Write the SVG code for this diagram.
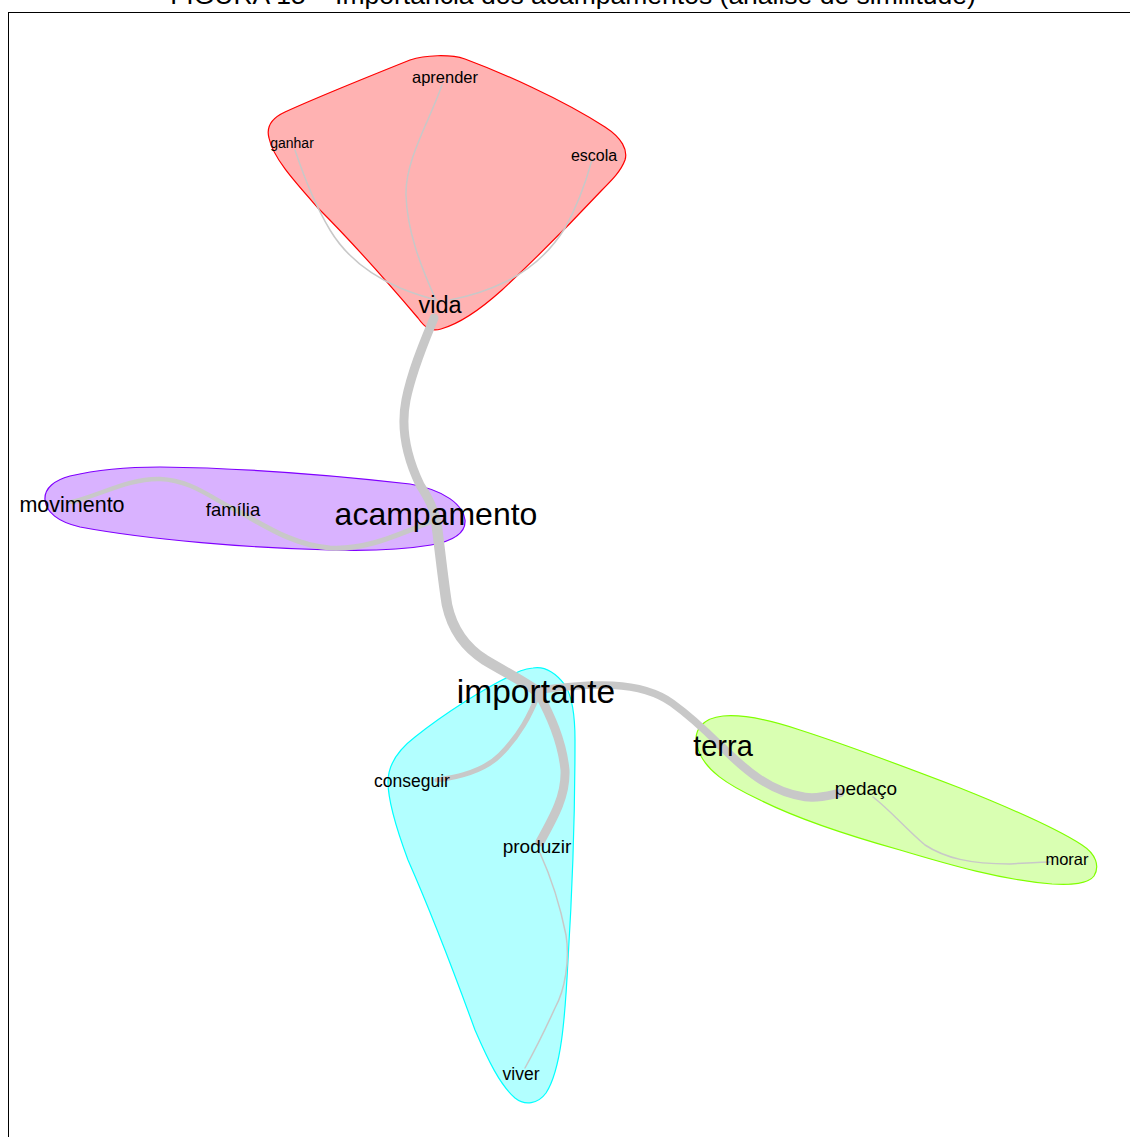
<svg xmlns="http://www.w3.org/2000/svg" width="1130" height="1137" viewBox="0 0 1130 1137">
<style>
text{font-family:"Liberation Sans",Arial,sans-serif;fill:#000;text-anchor:middle}
.e{fill:none;stroke:#C8C8C8;stroke-linecap:round}
.thin{stroke-width:1.5}
</style>
<rect width="1130" height="1137" fill="#fff"/>
<text x="573" y="4" font-size="26.5">FIGURA 15 – Importância dos acampamentos (análise de similitude)</text>
<rect x="8.5" y="12.5" width="1130" height="1130" fill="none" stroke="#000" stroke-width="1"/>
<g id="clusters">
<path id="cluster-red" fill="#FFB2B2" stroke="#FF0000" stroke-width="1.2" d="M269,138 C266,127 272,118 285,112 C320,96 370,76 410,60 C425,55 450,54 465,59 C500,72 560,98 605,127 C622,138 628,150 625,160 C621,171 612,180 602,190 C572,222 532,262 502,290 C482,308 462,323 441,329 C431,332 425,328 418,318 C390,285 350,240 318,208 C295,182 273,158 269,138 Z"/>
<path id="cluster-purple" fill="#D9B2FF" stroke="#8000FF" stroke-width="1.2" d="M45,500 C44,488 55,480 70,476 C100,469 130,467 160,467 C250,468 340,476 410,484 C445,490 463,505 465,520 C466,533 453,541 431,545 C401,550 360,551 330,550 C250,548 150,540 80,527 C58,522 46,512 45,500 Z"/>
<path id="cluster-cyan" fill="#B2FFFF" stroke="#00FFFF" stroke-width="1.2" d="M533,668 C545,666 555,672 565,685 C572,696 575,715 575,740 C575,800 573,880 568,960 C565,1020 561,1070 546,1093 C538,1104 525,1106 515,1098 C500,1085 488,1060 475,1030 C455,975 430,910 408,860 C395,825 388,800 388,782 C388,765 398,750 415,737 C445,713 485,688 510,676 C518,671 525,669 533,668 Z"/>
<path id="cluster-green" fill="#D9FFB2" stroke="#80FF00" stroke-width="1.2" d="M697,745 C693,730 703,718 723,716 C745,714 770,720 800,730 C850,746 900,765 960,788 C1010,808 1056,828 1082,845 C1096,854 1100,866 1094,876 C1088,884 1072,885 1052,884 C1002,880 950,865 900,850 C850,836 800,820 760,800 C730,786 702,770 697,745 Z"/>
</g>
<g id="connectors">
<path class="e" stroke-width="9" d="M434,318 C425,340 412,370 406,400 C400,430 408,460 420,485 C430,500 434,510 436,520"/>
<path class="e" stroke-width="10.5" d="M436,520 C440,550 443,580 447,605 C452,628 463,646 485,660 C505,672 525,682 538,692"/>
<path class="e" stroke-width="9" d="M538,692 C550,715 562,740 565,770 C566,795 555,815 540,842"/>
<path class="e" stroke-width="5" d="M538,695 C530,715 520,735 500,755 C485,770 460,777 437,780"/>
<path class="e" stroke-width="7.5" d="M540,690 C590,683 640,680 672,703 C690,716 705,730 720,745"/>
<path class="e" stroke-width="8.5" d="M720,745 C745,770 770,792 805,797 C820,799 830,795 840,793"/>
<path class="e" stroke-width="4.5" d="M72,502 C100,495 130,478 160,479 C190,480 210,497 232,508"/>
<path class="e" stroke-width="5" d="M232,508 C260,522 290,545 330,548 C370,550 400,533 436,520"/>
<path class="e thin" d="M442,85 C430,120 405,160 406,195 C407,230 420,265 436,300"/>
<path class="e thin" d="M295,150 C305,180 315,205 330,230 C345,255 370,275 400,288 C415,294 428,298 437,300"/>
<path class="e thin" d="M592,160 C585,185 578,205 565,228 C550,252 530,270 505,282 C485,292 465,297 450,300"/>
<path class="e thin" d="M540,853 C550,875 560,905 566,935 C570,960 565,990 555,1008 C545,1030 535,1050 525,1068"/>
<path class="e thin" d="M873,797 C890,810 905,828 925,845 C945,858 970,864 1010,864 C1025,863 1040,862 1050,862"/>
</g>
<g id="node-aprender"><text x="445" y="83" font-size="16.5">aprender</text></g>
<g id="node-ganhar"><text x="292" y="148" font-size="14">ganhar</text></g>
<g id="node-escola"><text x="594" y="161" font-size="16">escola</text></g>
<g id="node-vida"><text x="440" y="313" font-size="23.5">vida</text></g>
<g id="node-movimento"><text x="72" y="512" font-size="21.5">movimento</text></g>
<g id="node-familia"><text x="233" y="516" font-size="18.5">família</text></g>
<g id="node-acampamento"><text x="436" y="525" font-size="32">acampamento</text></g>
<g id="node-importante"><text x="536" y="703" font-size="33.5">importante</text></g>
<g id="node-conseguir"><text x="412" y="787" font-size="17.5">conseguir</text></g>
<g id="node-produzir"><text x="537" y="853" font-size="19">produzir</text></g>
<g id="node-viver"><text x="521" y="1080" font-size="17.5">viver</text></g>
<g id="node-terra"><text x="723" y="756" font-size="29">terra</text></g>
<g id="node-pedaco"><text x="866" y="795" font-size="19">pedaço</text></g>
<g id="node-morar"><text x="1067" y="865" font-size="16.5">morar</text></g>
</svg>
